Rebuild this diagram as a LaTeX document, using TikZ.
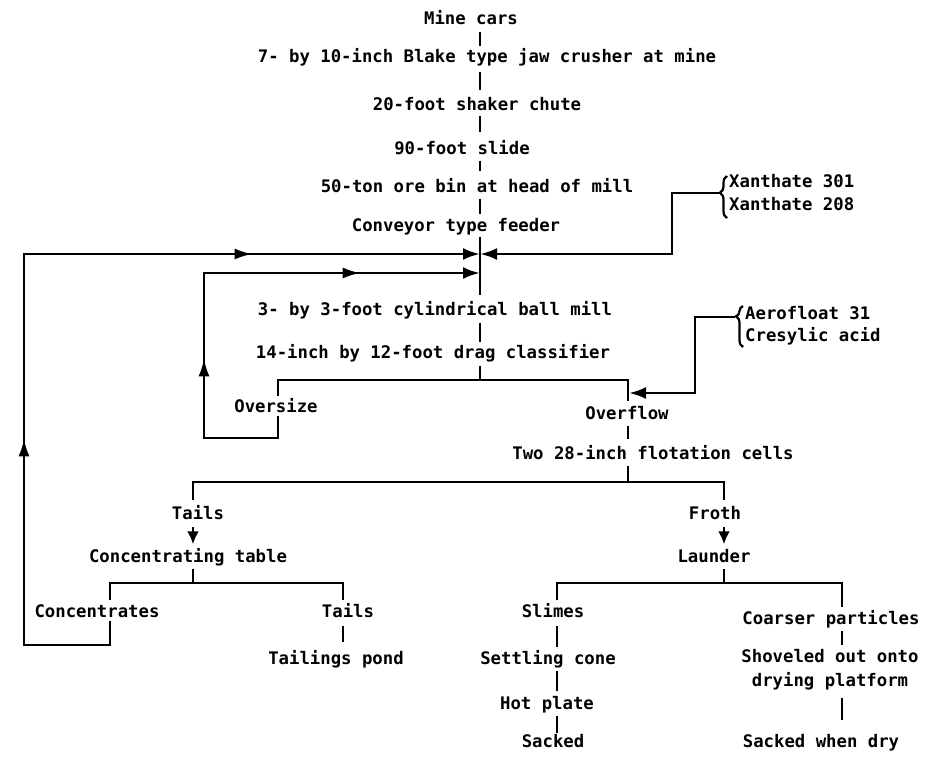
\documentclass[tikz,border=0pt]{standalone}
\usepackage{fontspec}
\setmonofont{DejaVu Sans Mono}
\usetikzlibrary{arrows.meta,decorations.pathreplacing,decorations.markings}
\begin{document}
\begin{tikzpicture}[x=1pt,y=-1pt,
  lblbase/.style={font=\ttfamily\bfseries\fontsize{17.3}{24}\selectfont, inner sep=0pt},
  lbl/.style={lblbase, text height=12pt, text depth=3pt},
  ln/.style={line width=2.8pt, line join=miter},
  conn/.style={ln, shorten <=4pt, shorten >=4pt},
  tip/.style={-{Latex[length=17pt,width=12pt]}},
  brc/.style={line width=2.2pt, decorate},
  ]
\fill[white] (0,0) rectangle (938,761);
\useasboundingbox (0,0) rectangle (938,761);

% ---- nodes ----
\node[lbl] (mine) at (471,20) {Mine cars};
\node[lbl] (jaw) at (487,58) {7- by 10-inch Blake type jaw crusher at mine};
\node[lbl] (chute) at (477,106) {20-foot shaker chute};
\node[lbl] (slide) at (462,150) {90-foot slide};
\node[lbl] (bin) at (477,188) {50-ton ore bin at head of mill};
\node[lbl] (feeder) at (456,227) {Conveyor type feeder};
\node[lbl,anchor=west] (x301) at (729,183) {Xanthate 301};
\node[lbl,anchor=west] (x208) at (729,206) {Xanthate 208};
\node[lbl] (ball) at (435,311) {3- by 3-foot cylindrical ball mill};
\node[lbl] (drag) at (433,354) {14-inch by 12-foot drag classifier};
\node[lbl,anchor=west] (aero) at (745,315) {Aerofloat 31};
\node[lbl,anchor=west] (cres) at (745,337) {Cresylic acid};
\node[lbl] (over) at (276,408) {Oversize};
\node[lbl] (flow) at (627,415) {Overflow};
\node[lbl] (cells) at (653,455) {Two 28-inch flotation cells};
\node[lbl] (tails) at (198,515) {Tails};
\node[lbl] (froth) at (715,515) {Froth};
\node[lbl] (table) at (188,558) {Concentrating table};
\node[lbl] (launder) at (714,558) {Launder};
\node[lbl] (conc) at (97,613) {Concentrates};
\node[lbl] (tails2) at (348,613) {Tails};
\node[lbl] (pond) at (336,660) {Tailings pond};
\node[lbl] (slimes) at (553,613) {Slimes};
\node[lbl] (coarse) at (831,620) {Coarser particles};
\node[lbl] (cone) at (548,660) {Settling cone};
\node[lbl] (hot) at (547,705) {Hot plate};
\node[lbl] (sacked) at (553,743) {Sacked};
\node[lblbase,align=center] (shovel) at (830,670) {Shoveled out onto\\drying platform};
\node[lbl] (sackdry) at (821,743) {Sacked when dry};

% ---- coordinates ----
\coordinate (J1) at (480,254);
\coordinate (J2) at (480,273);
\coordinate (xr) at (672,254);
\coordinate (xb) at (719,193);
\coordinate (ab) at (735,317);
\coordinate (ar) at (695,393);
\coordinate (af) at (629,393);
\coordinate (b1) at (480,380);
\coordinate (b1l) at (278,380);
\coordinate (b1r) at (628,380);
\coordinate (lo1) at (278,438);
\coordinate (lo2) at (204,438);
\coordinate (lo3) at (204,273);
\coordinate (b2) at (628,482);
\coordinate (b2l) at (193,482);
\coordinate (b2r) at (724,482);
\coordinate (b3) at (193,583);
\coordinate (b3l) at (110,583);
\coordinate (b3r) at (343,583);
\coordinate (b4) at (724,583);
\coordinate (b4l) at (557,583);
\coordinate (b4r) at (842,583);
\coordinate (ou1) at (110,645);
\coordinate (ou2) at (24,645);
\coordinate (ou3) at (24,254);

% ---- main column ----
\draw[conn] (mine.south -| J1) -- (jaw.north -| J1);
\draw[ln, shorten <=6pt, shorten >=8pt] (jaw.south -| J1) -- (chute.north -| J1);
\draw[ln, shorten <=2pt, shorten >=10pt] (chute.south -| J1) -- (slide.north -| J1);
\draw[ln, shorten <=3pt, shorten >=9pt] (slide.south -| J1) -- (bin.north -| J1);
\draw[ln, shorten <=3pt, shorten >=5pt] (bin.south -| J1) -- (feeder.north -| J1);
\draw[ln, shorten <=2pt, shorten >=8pt] (feeder.south -| J1) -- (ball.north -| J1);
\draw[ln, shorten <=4pt, shorten >=4pt] (ball.south -| J1) -- (drag.north -| J1);

% ---- reagents ----
\draw[brc, decoration={brace, amplitude=7pt, aspect=0.6}] (727,218) -- (727,176);
\draw[ln, tip] (xb) -| (xr) -- (J1);
\draw[brc, decoration={brace, amplitude=7pt, aspect=0.75}] (743,347) -- (743,306);
\draw[ln, tip] (ab) -| (ar) -- (af);

% ---- classifier ----
\draw[ln, shorten <=4pt] (drag.south -| b1) -- (b1);
\draw[ln, shorten <=4pt, shorten >=6pt] (over.north -| b1l) -- (b1l) -- (b1r) -- (flow.north -| b1r);
\draw[ln, tip, postaction={decorate}, decoration={markings,
    mark=at position 176pt with {\arrow{Latex[length=18pt,width=11pt]}},
    mark=at position 418pt with {\arrow{Latex[length=18pt,width=11pt]}}}]
  (over.south -| b1l) -- (lo1) -- (lo2) -- (lo3) -- (J2);

% ---- flotation ----
\draw[ln, shorten <=3pt, shorten >=8pt] (flow.south -| b1r) -- (cells.north -| b1r);
\draw[ln, shorten <=3pt] (cells.south -| b2) -- (b2);
\draw[ln, shorten <=7pt, shorten >=7pt] (tails.north -| b2l) -- (b2l) -- (b2r) -- (froth.north -| b2r);
\draw[ln, -{Latex[length=13pt,width=12pt]}, shorten <=4pt, shorten >=6pt] (tails.south -| b2l) -- (table.north -| b2l);
\draw[ln, -{Latex[length=13pt,width=12pt]}, shorten <=4pt, shorten >=6pt] (froth.south -| b2r) -- (launder.north -| b2r);

% ---- concentrating table ----
\draw[ln, shorten <=3pt] (table.south -| b3) -- (b3);
\draw[ln, shorten <=5pt, shorten >=5pt] (conc.north -| b3l) -- (b3l) -- (b3r) -- (tails2.north -| b3r);
\draw[ln, shorten <=5pt, shorten >=10pt] (tails2.south -| b3r) -- (pond.north -| b3r);
\draw[ln, tip, postaction={decorate}, decoration={markings,
    mark=at position 317pt with {\arrow{Latex[length=18pt,width=11pt]}},
    mark=at position 730pt with {\arrow{Latex[length=18pt,width=11pt]}}}]
  (conc.south -| ou1) -- (ou1) -- (ou2) -- (ou3) -- (J1);

% ---- launder ----
\draw[ln, shorten <=3pt] (launder.south -| b4) -- (b4);
\draw[ln, shorten <=5pt, shorten >=5pt] (slimes.north -| b4l) -- (b4l) -- (b4r) -- (coarse.north -| b4r);
\draw[ln, shorten <=5pt, shorten >=5pt] (slimes.south -| b4l) -- (cone.north -| b4l);
\draw[ln, shorten <=3pt, shorten >=6pt] (cone.south -| b4l) -- (hot.north -| b4l);
\draw[ln, shorten <=3pt, shorten >=2pt] (hot.south -| b4l) -- (sacked.north -| b4l);
\draw[ln, shorten <=3pt, shorten >=4pt] (coarse.south -| b4r) -- (shovel.north -| b4r);
\draw[ln, shorten <=7pt, shorten >=15pt] (shovel.south -| b4r) -- (sackdry.north -| b4r);
\end{tikzpicture}
\end{document}
